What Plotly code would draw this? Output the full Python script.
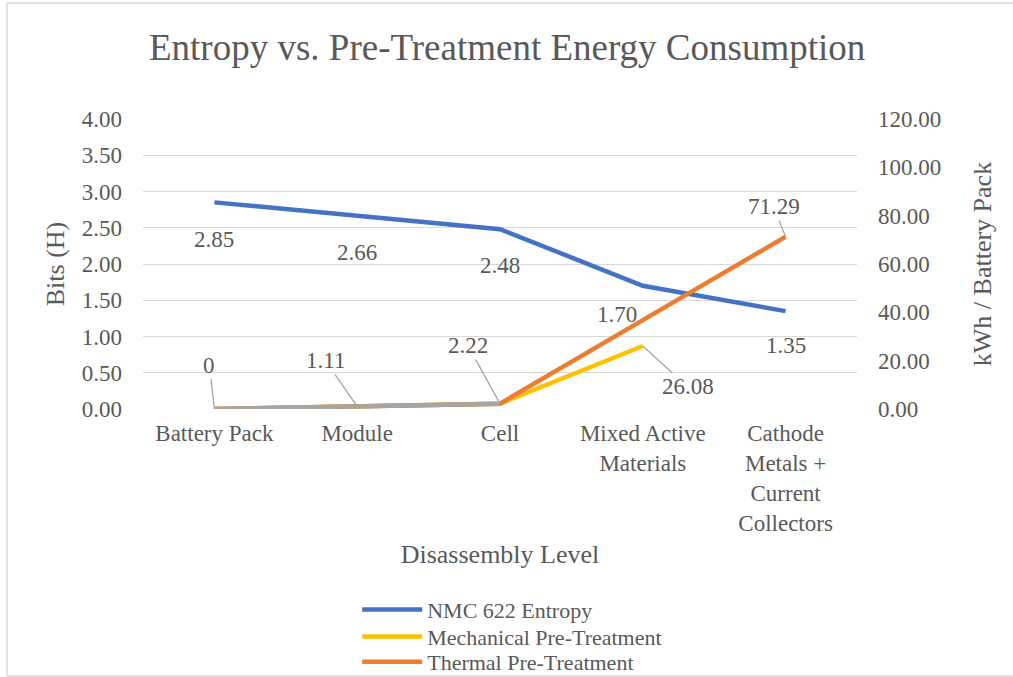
import plotly.graph_objects as go

categories = ["Battery Pack", "Module", "Cell", "Mixed Active<br>Materials",
              "Cathode<br>Metals +<br>Current<br>Collectors"]
entropy = [2.85, 2.66, 2.48, 1.70, 1.35]
mechanical = [0, 1.11, 2.22, 26.08]
thermal = [0, 1.11, 2.22, 36.8, 71.29]
gray_series = [0, 1.11, 2.22]

FONT = "Liberation Serif, Times New Roman, serif"
TXT = "#595959"
LBL = 23
LEG = 22

fig = go.Figure()
fig.add_trace(go.Scatter(x=categories, y=entropy, name="NMC 622 Entropy", mode="lines",
                         line=dict(color="#4472C4", width=4.5), yaxis="y", legend="legend"))
fig.add_trace(go.Scatter(x=categories[:4], y=mechanical, name="Mechanical Pre-Treatment", mode="lines",
                         line=dict(color="#FFC000", width=4.5), yaxis="y2", legend="legend2"))
fig.add_trace(go.Scatter(x=categories, y=thermal, name="Thermal Pre-Treatment", mode="lines",
                         line=dict(color="#ED7D31", width=4.5), yaxis="y2", legend="legend3"))
fig.add_trace(go.Scatter(x=categories[:3], y=gray_series, name="Pre-Treatment", mode="lines",
                         line=dict(color="#A5A5A5", width=4.5), yaxis="y2", showlegend=False))

annotations = []
ent_offsets = [(0, 37), (0, 36), (0, 36), (-26, 29), (0, 34)]
for c, v, (dx, dy) in zip(categories, entropy, ent_offsets):
    annotations.append(dict(x=c, y=v, xref="x", yref="y", text=f"{v:.2f}", showarrow=False,
                            xshift=dx, yshift=-dy, font=dict(family=FONT, size=LBL, color=TXT)))
gray_offsets = [(-5, -44), (-32, -46), (-32, -58)]
for c, v, (ax, ay) in zip(categories[:3], gray_series, gray_offsets):
    annotations.append(dict(x=c, y=v, xref="x", yref="y2", text=f"{v:g}" if v == 0 else f"{v:.2f}",
                            showarrow=True, arrowhead=0, arrowwidth=1.3, arrowcolor="#A6A6A6",
                            ax=ax, ay=ay, font=dict(family=FONT, size=LBL, color=TXT)))
annotations.append(dict(x=categories[3], y=mechanical[3], xref="x", yref="y2", text=f"{mechanical[3]:.2f}",
                        showarrow=True, arrowhead=0, arrowwidth=1.3, arrowcolor="#A6A6A6",
                        ax=45, ay=41, font=dict(family=FONT, size=LBL, color=TXT)))
annotations.append(dict(x=categories[4], y=thermal[4], xref="x", yref="y2", text=f"{thermal[4]:.2f}",
                        showarrow=True, arrowhead=0, arrowwidth=1.3, arrowcolor="#A6A6A6",
                        ax=-12, ay=-30, font=dict(family=FONT, size=LBL, color=TXT)))


def leg(ypos):
    return dict(x=0.300, y=ypos, xanchor="left", yanchor="top", orientation="v",
                font=dict(family=FONT, size=LEG, color=TXT), itemwidth=60,
                bgcolor="rgba(0,0,0,0)")


fig.update_layout(
    width=1013, height=677,
    margin=dict(l=143, r=156, t=119, b=268, autoexpand=False),
    paper_bgcolor="white", plot_bgcolor="white",
    font=dict(family=FONT, size=LBL, color=TXT),
    title=dict(text="Entropy vs. Pre-Treatment Energy Consumption", x=0.51, xanchor="center",
               xref="paper", y=0.93, yanchor="middle", font=dict(family=FONT, size=37, color=TXT)),
    xaxis=dict(type="category", range=[-0.5, 4.5], showgrid=False, showline=False, zeroline=False,
               ticks="", tickfont=dict(size=LBL, color=TXT), automargin=False, ticklabelstandoff=8,
               title=dict(text="Disassembly Level", font=dict(size=26, color=TXT), standoff=10)),
    yaxis=dict(range=[0, 4], dtick=0.5, tickformat=".2f", showgrid=True, gridcolor="#D9D9D9",
               gridwidth=1.3, zeroline=False, showline=False, ticklabelstandoff=20, automargin=False,
               tickfont=dict(size=LBL, color=TXT),
               title=dict(text="Bits (H)", font=dict(size=26, color=TXT), standoff=9)),
    yaxis2=dict(range=[0, 120], dtick=20, tickformat=".2f", overlaying="y", side="right",
                showgrid=False, zeroline=False, showline=False, ticklabelstandoff=20, automargin=False,
                tickfont=dict(size=LBL, color=TXT),
                title=dict(text="kWh / Battery Pack", font=dict(size=26, color=TXT), standoff=32)),
    legend=leg(-0.620),
    legend2=leg(-0.713),
    legend3=leg(-0.800),
    annotations=annotations,
    shapes=[dict(type="rect", xref="paper", yref="paper", x0=-0.1905, x1=1.225, y0=-0.921, y1=1.4,
                 line=dict(color="#D9D9D9", width=1.5), fillcolor="rgba(0,0,0,0)", layer="below")],
)

fig.write_html("out.html", config={"displayModeBar": False},
               post_script="document.body.style.margin='0';")
